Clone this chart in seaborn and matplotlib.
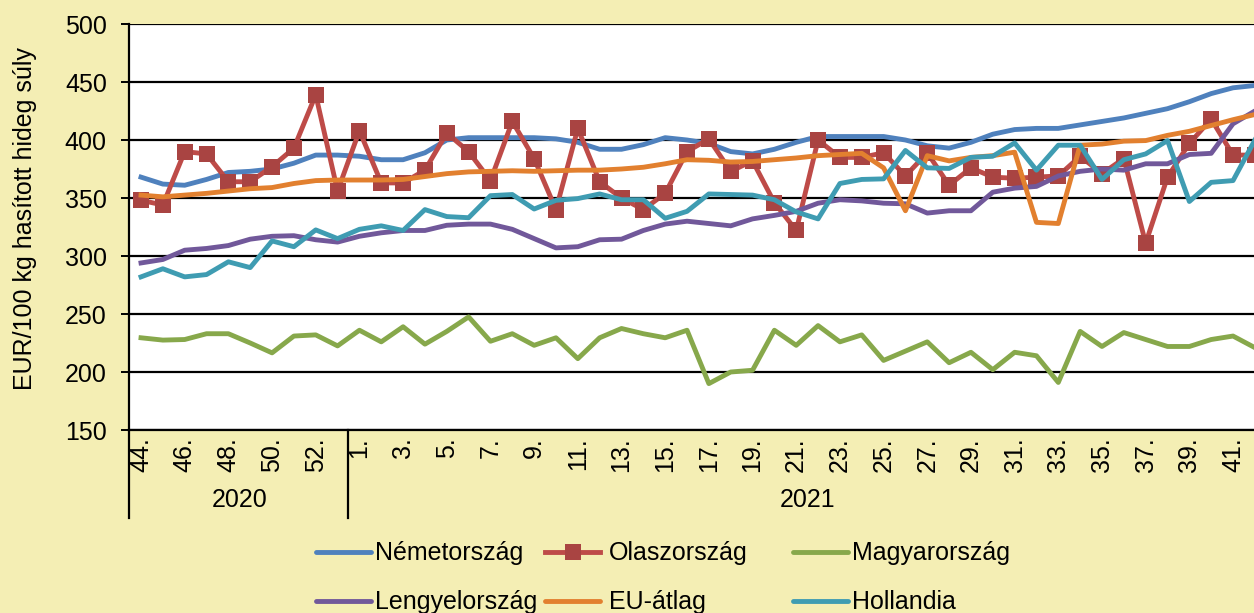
import pandas as pd
import seaborn as sns
import matplotlib.pyplot as plt
from matplotlib.lines import Line2D

# Hetek (2020. 44. héttől 2021. 42. hétig)
hetek = [44, 45, 46, 47, 48, 49, 50, 51, 52, 53,
         1, 2, 3, 4, 5, 6, 7, 8, 9, 10, 11, 12, 13, 14, 15, 16, 17, 18, 19, 20,
         21, 22, 23, 24, 25, 26, 27, 28, 29, 30, 31, 32, 33, 34, 35, 36, 37, 38,
         39, 40, 41, 42]

nemetorszag = [368, 362, 361, 366, 372, 373, 375, 380, 387, 387,
               386, 383, 383, 389, 400, 402, 402, 402, 402, 401, 398, 392, 392, 396,
               402, 400, 397, 390, 388, 392, 398, 403, 403, 403, 403, 400, 395, 393,
               398, 405, 409, 410, 410, 413, 416, 419, 423, 427, 433, 440, 445, 447]

olaszorszag = [348, 344, 390, 388, 364, 364, 377, 393, 439, 356,
               408, 363, 363, 374, 406, 390, 365, 416, 384, 340, 410, 364, 350, 340,
               354, 390, 401, 373, 382, 346, 322, 400, 385, 385, 389, 369, 389, 361,
               376, 368, 367, 368, 369, 386, 371, 384, 311, 368, 397, 418, 387, 387]

magyarorszag = [229.5, 227.5, 228, 233, 233, 225, 216.5, 231, 232, 222.5,
                236, 226, 239, 224, 235, 247.5, 226.5, 233, 223, 229.5, 211.5, 229.5,
                237.5, 233, 229.5, 236, 190, 200, 201.5, 236, 223, 240, 226, 232, 210,
                218, 226, 208, 217, 202, 217, 214, 191, 235, 222, 234, 228, 222, 222,
                228, 231, 221]

lengyelorszag = [294, 297, 305, 306.5, 309, 314.5, 317, 317.5, 314, 312,
                 317, 320, 322, 322, 326.5, 327.5, 327.5, 323, 315, 307, 308, 314,
                 314.5, 322, 327.5, 330, 328, 326, 332, 335, 338.5, 345.5, 348.5,
                 347.5, 345.5, 345, 337, 339, 339, 355, 358.5, 360, 369, 373, 375,
                 374, 379.5, 379.5, 387.5, 388.5, 414, 425]

eu_atlag = [352.5, 351, 352.5, 354, 356, 358, 359, 362.5, 365, 365.5,
            365.5, 365.5, 366, 368.5, 371, 372.5, 373, 373.5, 373, 373.5, 374, 374,
            375, 376.5, 379.5, 383, 382.5, 381, 381.5, 383, 384.5, 386.5, 387.5,
            388.5, 376, 339, 386.5, 382, 385, 386.5, 389.5, 329, 328, 395.5, 396.5,
            399, 399.5, 404, 407.5, 412.5, 417.5, 422]

hollandia = [282, 289, 282, 284, 295, 290, 313, 308, 322.5, 315,
             323, 326, 322, 340, 334, 333, 352, 353, 340.5, 348, 349.5, 353.5,
             348.5, 348.5, 332.5, 338.5, 353.5, 353, 352.5, 348.5, 338, 332, 362.5,
             366, 366.5, 391, 376, 375.5, 385, 386, 397.5, 374, 395.5, 395.5, 366,
             383, 388, 399.5, 347, 363.5, 365, 400]

sorozatok = [
    ("Németország", nemetorszag, "#4F81BD"),
    ("Olaszország", olaszorszag, "#BE4B48"),
    ("Magyarország", magyarorszag, "#87A84B"),
    ("Lengyelország", lengyelorszag, "#71589A"),
    ("EU-átlag", eu_atlag, "#E2802F"),
    ("Hollandia", hollandia, "#3F9CB2"),
]

hatter = "#F4EEB4"
betu = ["Liberation Sans", "DejaVu Sans"]
plt.rcParams["font.family"] = betu
plt.rcParams["font.size"] = 18

idx = list(range(len(hetek)))

fig = plt.figure(figsize=(12.54, 6.13), dpi=100, facecolor=hatter)
ax = fig.add_axes([129 / 1254, 1 - 430 / 613, 1125 / 1254, 406 / 613])
ax.set_facecolor("white")

for nev, ertekek, szin in sorozatok:
    df = pd.DataFrame({"het": idx, "ertek": ertekek})
    extra = {}
    if nev == "Olaszország":
        extra = dict(marker="s", markersize=11, markeredgewidth=0,
                     markerfacecolor="#A94442")
    sns.lineplot(data=df, x="het", y="ertek", color=szin, lw=3.5, ax=ax,
                 sort=False, solid_joinstyle="round", **extra)

ax.set_xlim(-0.55, 50.96)
ax.set_ylim(150, 500)
ax.set_yticks(range(150, 501, 50))
ax.grid(axis="y", color="black", lw=1.6)
ax.set_axisbelow(True)
for s in ["top", "right"]:
    ax.spines[s].set_visible(False)
ax.spines["left"].set_linewidth(1.6)
ax.spines["bottom"].set_linewidth(1.6)
ax.tick_params(axis="y", direction="out", length=6, width=1.4, pad=10, labelsize=18)

ax.set_xticks(idx[::2])
ax.set_xticklabels([f"{h}." for h in hetek[::2]], rotation=90, va="top", ha="center")
ax.tick_params(axis="x", length=0, pad=5, labelsize=18)
ax.set_xlabel("")
ax.set_ylabel("EUR/100 kg hasított hideg súly", fontsize=18)
ax.yaxis.set_label_coords(-0.082, 0.52)

# évek csoportosítása
tr = ax.get_xaxis_transform()
for xv in [-0.55, 9.5]:
    ax.plot([xv, xv], [0, -0.217], color="black", lw=1.6, transform=tr, clip_on=False)
ax.text(4.5, -0.172, "2020", transform=tr, ha="center", va="center", fontsize=18)
ax.text(30.5, -0.172, "2021", transform=tr, ha="center", va="center", fontsize=18)

# jelmagyarázat: három oszlop
oszlopok = [(0, 3, 316, 0.15), (1, 4, 545, 0.35), (2, 5, 793, 0.15)]
for a, b, xpix, pad in oszlopok:
    kezelok = []
    cimkek = []
    for k in (a, b):
        nev, _, szin = sorozatok[k]
        if nev == "Olaszország":
            h = Line2D([], [], color=szin, lw=3.5, marker="s", markersize=11,
                       markeredgewidth=0, markerfacecolor="#A94442")
        else:
            h = Line2D([], [], color=szin, lw=3.5, solid_capstyle="round")
        kezelok.append(h)
        cimkek.append(nev)
    fig.legend(kezelok, cimkek, loc="upper left", bbox_to_anchor=(xpix / 1254, 0.117),
               frameon=False, handlelength=2.2, handletextpad=pad, borderpad=0,
               borderaxespad=0, labelspacing=1.0, fontsize=18)

fig.savefig("out.png", dpi=100, facecolor=hatter)
